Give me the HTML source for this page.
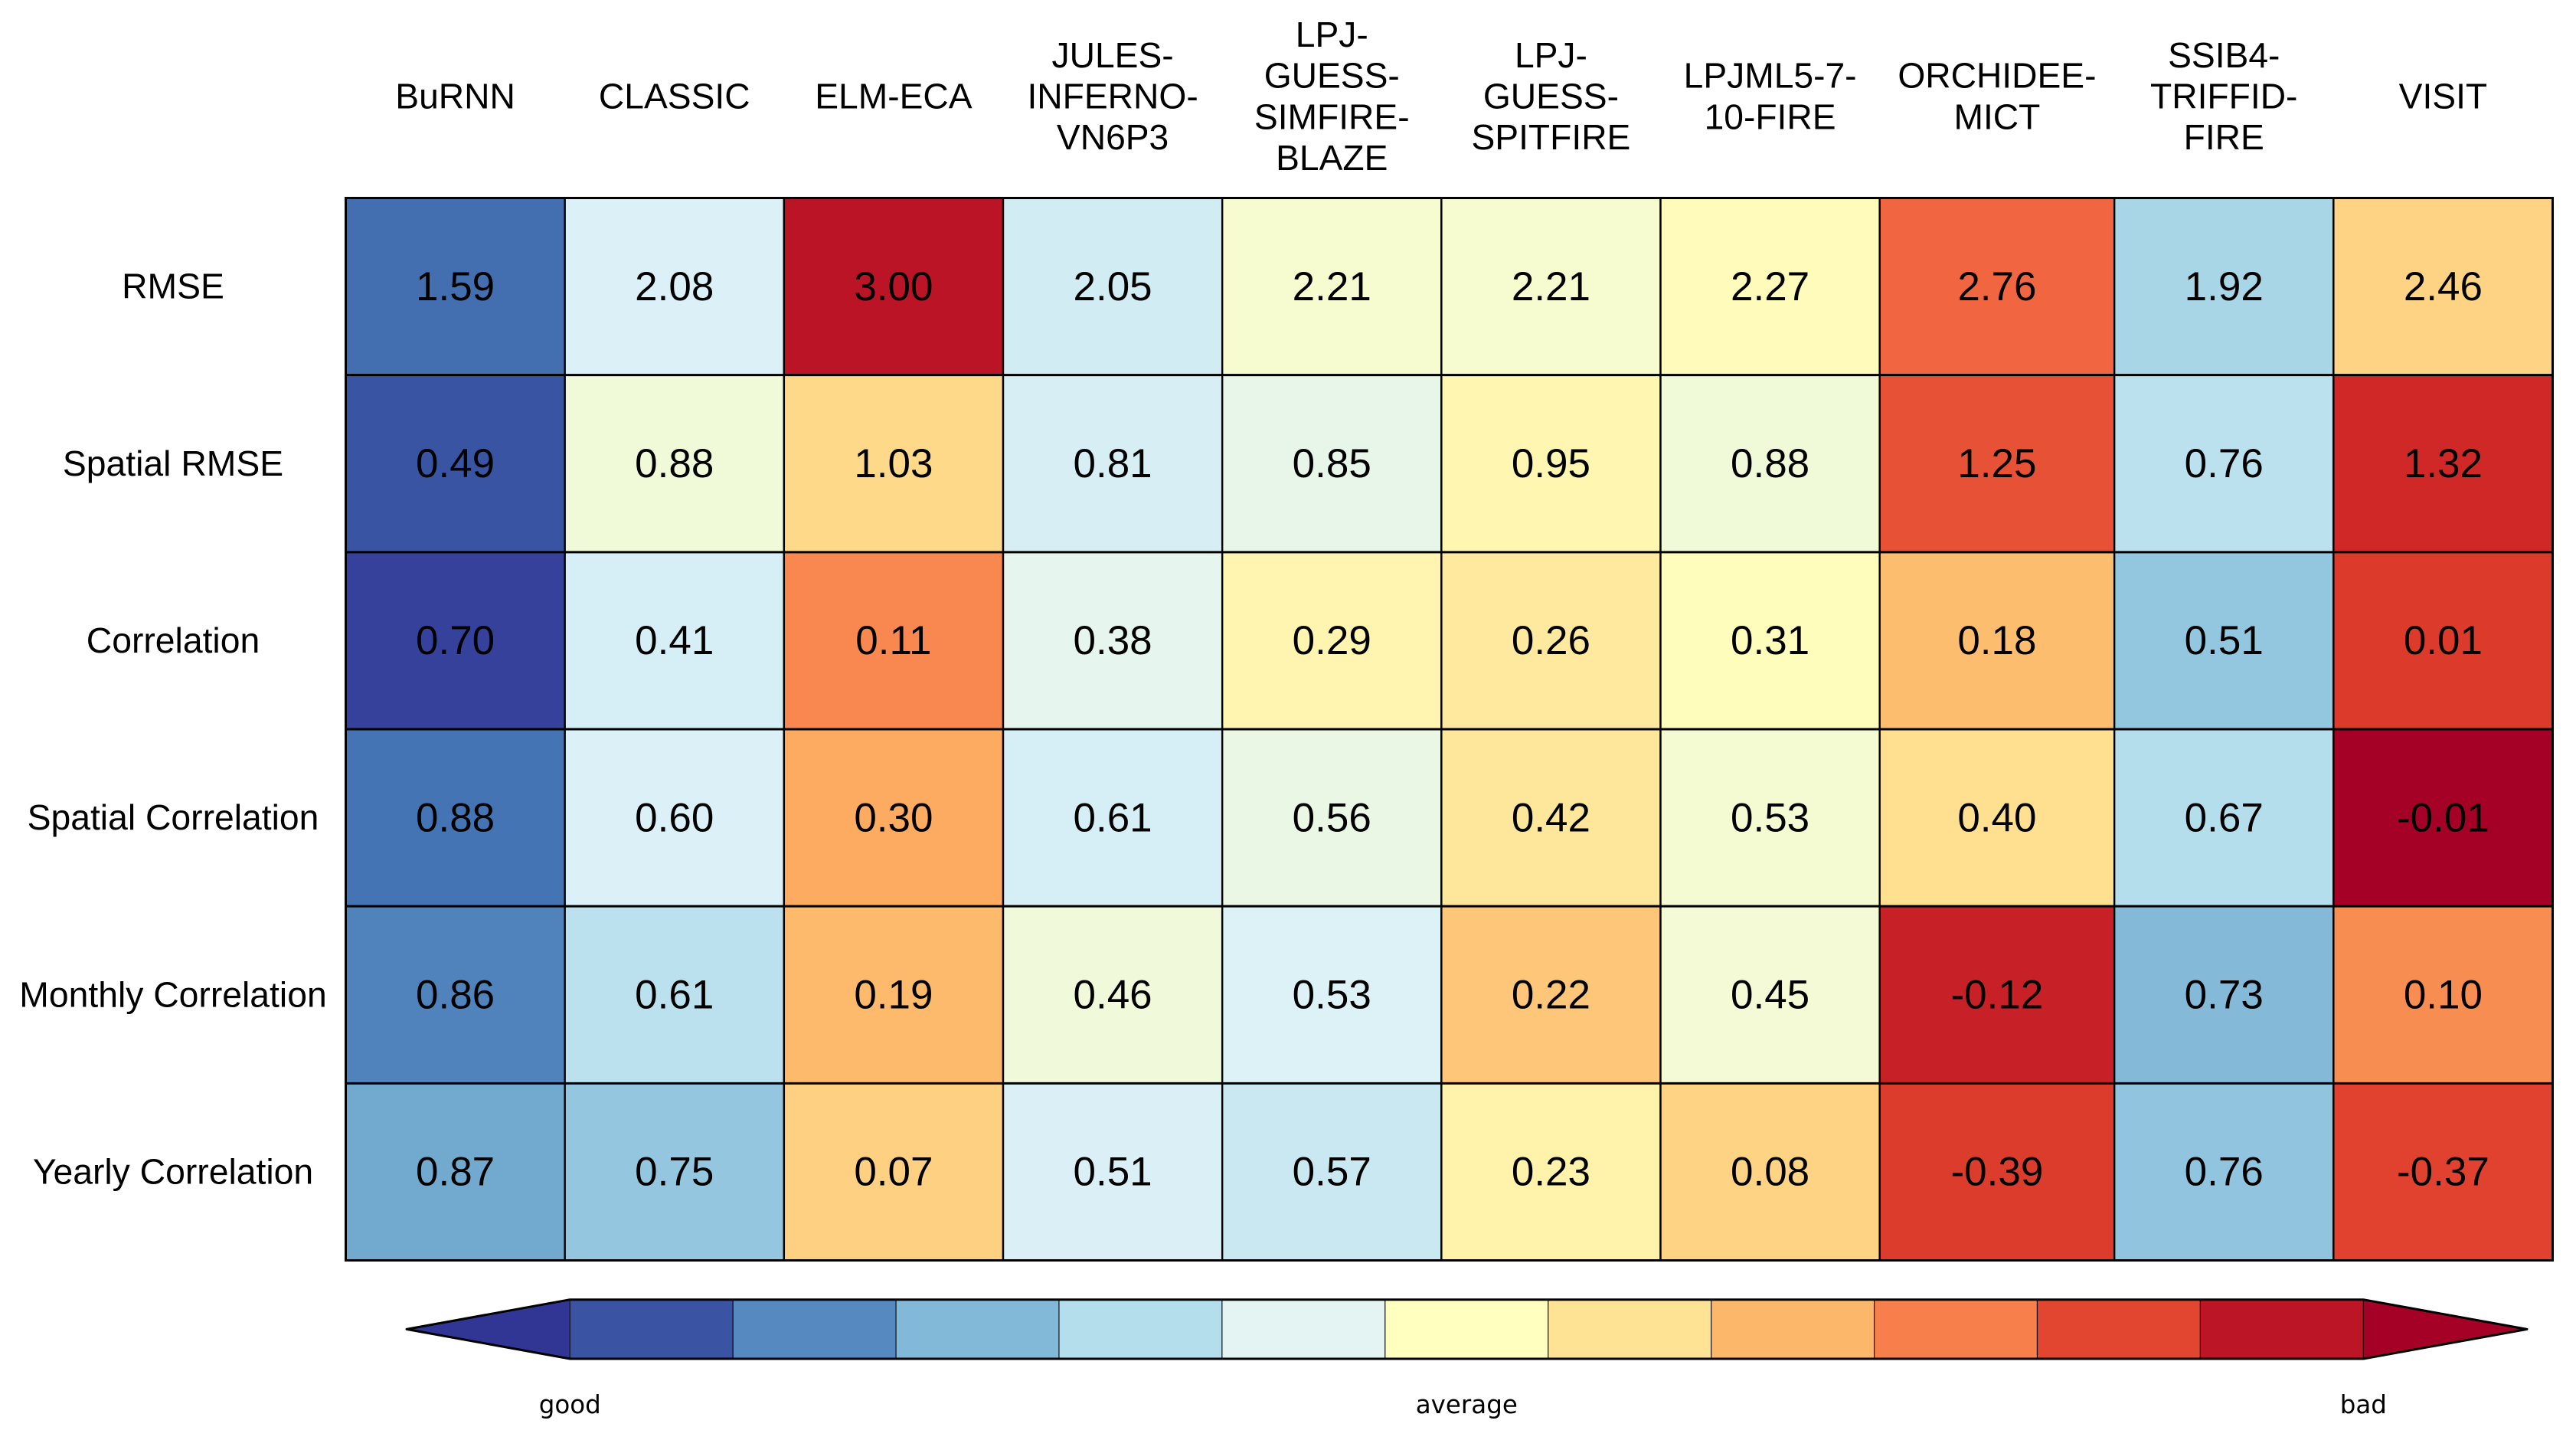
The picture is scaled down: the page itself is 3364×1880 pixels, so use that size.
<!DOCTYPE html>
<html lang="en">
<head>
<meta charset="utf-8">
<title>Model benchmark heatmap</title>
<style>
  html, body { margin: 0; padding: 0; background: #ffffff; }
  svg { display: block; }
  .arial { font-family: "Liberation Sans", Arial, sans-serif; fill: #000; }
  .dejavu { font-family: "DejaVu Sans", sans-serif; fill: #000; }
</style>
</head>
<body>
<svg id="chart" xmlns="http://www.w3.org/2000/svg" width="3364" height="1880" viewBox="0 0 3364 1880">
  <rect x="0" y="0" width="3364" height="1880" fill="#ffffff"/>
</svg>
<script>
// ---- Chart data ----
const modelLabels = [
  ["BuRNN"],
  ["CLASSIC"],
  ["ELM-ECA"],
  ["JULES-", "INFERNO-", "VN6P3"],
  ["LPJ-", "GUESS-", "SIMFIRE-", "BLAZE"],
  ["LPJ-", "GUESS-", "SPITFIRE"],
  ["LPJML5-7-", "10-FIRE"],
  ["ORCHIDEE-", "MICT"],
  ["SSIB4-", "TRIFFID-", "FIRE"],
  ["VISIT"]
];
const columnUnits = [1, 1, 1, 1, 1, 1, 1, 1.071, 1, 1];
const metricLabels = ["RMSE", "Spatial RMSE", "Correlation", "Spatial Correlation", "Monthly Correlation", "Yearly Correlation"];
const higherIsBetter = [false, false, true, true, true, true];
const rmseValues = ["1.59", "2.08", "3.00", "2.05", "2.21", "2.21", "2.27", "2.76", "1.92", "2.46"];
const spatialRmseValues = ["0.49", "0.88", "1.03", "0.81", "0.85", "0.95", "0.88", "1.25", "0.76", "1.32"];
const correlationValues = ["0.70", "0.41", "0.11", "0.38", "0.29", "0.26", "0.31", "0.18", "0.51", "0.01"];
const spatialCorrelationValues = ["0.88", "0.60", "0.30", "0.61", "0.56", "0.42", "0.53", "0.40", "0.67", "-0.01"];
const monthlyCorrelationValues = ["0.86", "0.61", "0.19", "0.46", "0.53", "0.22", "0.45", "-0.12", "0.73", "0.10"];
const yearlyCorrelationValues = ["0.87", "0.75", "0.07", "0.51", "0.57", "0.23", "0.08", "-0.39", "0.76", "-0.37"];
const legendLabels = ["good", "average", "bad"];
const legendSegmentCount = 11;

const valueRows = [rmseValues, spatialRmseValues, correlationValues, spatialCorrelationValues, monthlyCorrelationValues, yearlyCorrelationValues];

// ---- Colour scale: good (blue) to bad (red) ----
const scaleStops = ["#313695", "#4575b4", "#74add1", "#abd9e9", "#e0f3f8", "#ffffbf", "#fee090", "#fdae61", "#f46d43", "#d73027", "#a50026"];

function hexToRgb(hex) {
  return [1, 3, 5].map(function (i) { return parseInt(hex.substr(i, 2), 16); });
}
function colorAt(t) {
  const clipped = Math.max(0, Math.min(1, t));
  const pos = clipped * (scaleStops.length - 1);
  const lo = Math.min(Math.floor(pos), scaleStops.length - 2);
  const f = pos - lo;
  const a = hexToRgb(scaleStops[lo]);
  const b = hexToRgb(scaleStops[lo + 1]);
  const c = a.map(function (v, i) { return Math.round(v + (b[i] - v) * f); });
  return "rgb(" + c.join(",") + ")";
}
// Each row is standardised on its own; +/-2 sigma spans the full scale.
function rowScore(rowIndex, colIndex) {
  const nums = valueRows[rowIndex].map(Number);
  const mean = nums.reduce(function (s, v) { return s + v; }, 0) / nums.length;
  const variance = nums.reduce(function (s, v) { return s + (v - mean) * (v - mean); }, 0) / (nums.length - 1);
  const z = (nums[colIndex] - mean) / Math.sqrt(variance);
  return 0.5 + (higherIsBetter[rowIndex] ? -z : z) / 4;
}

// ---- Axis functions ----
const gridLeft = 451.5, gridRight = 3333.5, gridTop = 258.5, gridBottom = 1645.5;
const unitTotal = columnUnits.reduce(function (s, v) { return s + v; }, 0);
function xEdge(i) {
  let used = 0;
  for (let k = 0; k < i; k++) used += columnUnits[k];
  return gridLeft + (gridRight - gridLeft) * used / unitTotal;
}
function xCenter(i) { return (xEdge(i) + xEdge(i + 1)) / 2; }
function yEdge(r) { return gridTop + (gridBottom - gridTop) * r / metricLabels.length; }
function yCenter(r) { return (yEdge(r) + yEdge(r + 1)) / 2; }

const barLeft = 744.3, barRight = 3086.3, barTop = 1696.7, barBottom = 1774, tipLeft = 531, tipRight = 3300;
function barEdge(i) { return barLeft + (barRight - barLeft) * i / legendSegmentCount; }

// ---- Drawing ----
const svg = document.getElementById("chart");
const NS = "http://www.w3.org/2000/svg";
function make(tag, attrs, parent) {
  const el = document.createElementNS(NS, tag);
  Object.keys(attrs).forEach(function (k) { el.setAttribute(k, attrs[k]); });
  (parent || svg).appendChild(el);
  return el;
}
function slug(s) { return s.toLowerCase().replace(/[^a-z0-9]+/g, "-").replace(/-$/, ""); }

const HEADER_SIZE = 46.2, VALUE_SIZE = 53, ROW_SIZE = 46.3, LEGEND_SIZE = 32.5;
const headerMidBaseline = 141.5, headerLeading = 53.6, rowLabelX = 226;

// Column headers
modelLabels.forEach(function (lines, c) {
  const name = lines.join("");
  const t = make("text", { "class": "arial", "text-anchor": "middle", "font-size": HEADER_SIZE });
  
  
  lines.forEach(function (line, i) {
    const span = make("tspan", { x: xCenter(c), y: headerMidBaseline + (i - (lines.length - 1) / 2) * headerLeading }, t);
    span.textContent = line;
  });
});

// Row labels
metricLabels.forEach(function (label, r) {
  const t = make("text", { "class": "arial", "text-anchor": "middle", "font-size": ROW_SIZE, x: rowLabelX, y: yCenter(r) + 15.5 });
  
  
  t.textContent = label;
});

// Heatmap cells
valueRows.forEach(function (row, r) {
  row.forEach(function (value, c) {
    const cell = make("rect", {
      x: xEdge(c), y: yEdge(r), width: xEdge(c + 1) - xEdge(c), height: yEdge(r + 1) - yEdge(r),
      fill: colorAt(rowScore(r, c)), stroke: "#000", "stroke-width": 2.4
    });
    
    
  });
});
// Heavier horizontal rules and outer frame
for (let r = 1; r < metricLabels.length; r++) {
  const rule = make("line", { x1: gridLeft, x2: gridRight, y1: yEdge(r), y2: yEdge(r), stroke: "#000", "stroke-width": 3 });
  
  
}
const frame = make("rect", { x: gridLeft, y: gridTop, width: gridRight - gridLeft, height: gridBottom - gridTop, fill: "none", stroke: "#000", "stroke-width": 3 });



// Cell value labels
valueRows.forEach(function (row, r) {
  row.forEach(function (value, c) {
    const t = make("text", { "class": "arial", "text-anchor": "middle", "font-size": VALUE_SIZE, x: xCenter(c), y: yCenter(r) + 17.8 });
    
    
    t.textContent = value;
  });
});

// Colour bar
const barMid = (barTop + barBottom) / 2;
const lowTip = make("polygon", { points: tipLeft + "," + barMid + " " + barLeft + "," + barTop + " " + barLeft + "," + barBottom, fill: colorAt(0) });


const highTip = make("polygon", { points: tipRight + "," + barMid + " " + barRight + "," + barTop + " " + barRight + "," + barBottom, fill: colorAt(1) });


for (let i = 0; i < legendSegmentCount; i++) {
  const seg = make("rect", {
    x: barEdge(i), y: barTop, width: barEdge(i + 1) - barEdge(i), height: barBottom - barTop,
    fill: colorAt((i + 0.5) / legendSegmentCount), stroke: "#000", "stroke-opacity": 0.8, "stroke-width": 1.2
  });
  
  
}
const outline = make("polygon", {
  points: [tipLeft + "," + barMid, barLeft + "," + barTop, barRight + "," + barTop, tipRight + "," + barMid, barRight + "," + barBottom, barLeft + "," + barBottom].join(" "),
  fill: "none", stroke: "#000", "stroke-width": 3, "stroke-linejoin": "round"
});



// Colour bar labels: at the low end, the midpoint and the high end
legendLabels.forEach(function (label, i) {
  const t = make("text", { "class": "dejavu", "text-anchor": "middle", "font-size": LEGEND_SIZE, x: barLeft + (barRight - barLeft) * i / (legendLabels.length - 1), y: 1845 });
  
  
  t.textContent = label;
});
</script>
</body>
</html>
